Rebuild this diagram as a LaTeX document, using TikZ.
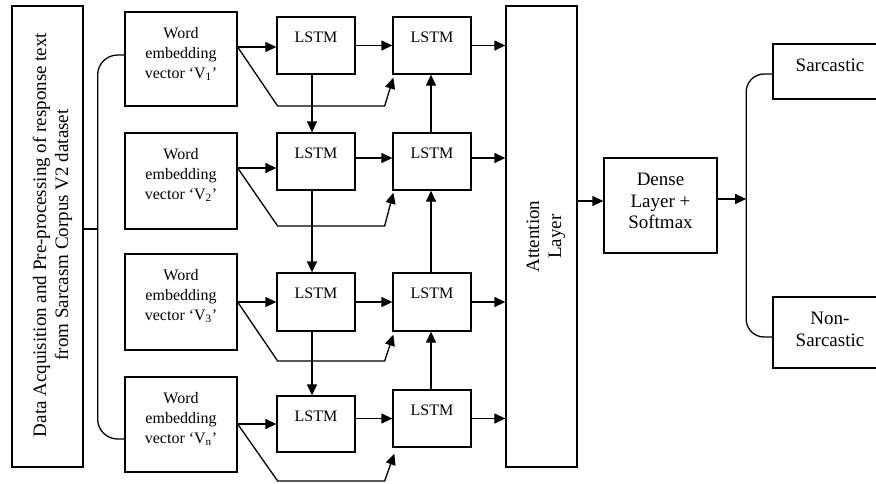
\documentclass[tikz,border=0pt]{standalone}
\usepackage{fontspec}
\setmainfont{Liberation Serif}
\usetikzlibrary{arrows.meta,calc}
\begin{document}
\begin{tikzpicture}[x=1pt,y=-1pt,
  box/.style={draw, line width=1.3pt, inner sep=0pt},
  lstm/.style={box, minimum width=78pt, minimum height=57pt},
  wbox/.style={box, minimum width=112pt, minimum height=95pt},
  sm/.style={font=\fontsize{16}{20}\selectfont, align=center, inner sep=0pt},
  lg/.style={font=\fontsize{19}{22}\selectfont, align=center, inner sep=0pt},
  arr/.style={-{Triangle[length=11pt,width=10pt]}, line width=1.3pt},
  ln/.style={line width=1.3pt}]
\useasboundingbox (0,0) rectangle (876,483);

% left data box
\node[box, minimum width=71pt, minimum height=461pt] (data) at (47.5,236.5) {};
\node[lg, rotate=90] (datat) at (52.5,235) {Data Acquisition and Pre-processing of response text\\from Sarcasm Corpus V2 dataset};

% word embedding boxes
\node[wbox, minimum height=94pt] (v1) at (181,59) {};
\node[sm] (v1t) at (181,54) {Word\\embedding\\vector ‘V\textsubscript{1}’};
\node[wbox, minimum height=96pt] (v2) at (181,181) {};
\node[sm] (v2t) at (181,175) {Word\\embedding\\vector ‘V\textsubscript{2}’};
\node[wbox, minimum height=96pt] (v3) at (181,302) {};
\node[sm] (v3t) at (181,296) {Word\\embedding\\vector ‘V\textsubscript{3}’};
\node[wbox, minimum height=95pt] (vn) at (181,424.5) {};
\node[sm] (vnt) at (181,419) {Word\\embedding\\vector ‘V\textsubscript{n}’};

% LSTM column 1
\node[lstm] (l11) at (316,45.5) {};
\node[lstm] (l21) at (316,161.5) {};
\node[lstm, minimum height=58pt] (l31) at (316,302) {};
\node[lstm, minimum height=56pt] (l41) at (316,424) {};
% LSTM column 2
\node[lstm] (l12) at (432,45.5) {};
\node[lstm] (l22) at (432,161.5) {};
\node[lstm, minimum height=58pt] (l32) at (432,302) {};
\node[lstm] (l42) at (432,418.5) {};

\node[sm] (l11t) at ($(l11.north)+(0,20.5)$) {LSTM};
\node[sm] (l21t) at ($(l21.north)+(0,20.5)$) {LSTM};
\node[sm] (l31t) at ($(l31.north)+(0,20.5)$) {LSTM};
\node[sm] (l41t) at ($(l41.north)+(0,20.5)$) {LSTM};
\node[sm] (l12t) at ($(l12.north)+(0,20.5)$) {LSTM};
\node[sm] (l22t) at ($(l22.north)+(0,20.5)$) {LSTM};
\node[sm] (l32t) at ($(l32.north)+(0,20.5)$) {LSTM};
\node[sm] (l42t) at ($(l42.north)+(0,20.5)$) {LSTM};

% attention
\node[box, minimum width=71pt, minimum height=461pt] (att) at (541.5,236.5) {};
\node[lg, rotate=90] (attt) at (546,236.5) {Attention\\Layer};

% dense
\node[box, minimum width=113pt, minimum height=95pt] (dense) at (660.5,205.5) {};
\node[lg, font=\fontsize{19}{21.5}\selectfont] (denset) at (660.5,201) {Dense\\Layer +\\Softmax};

% outputs
\node[box, minimum width=114pt, minimum height=55pt] (sar) at (830,71.5) {};
\node[lg] (sart) at (830,65.5) {Sarcastic};
\node[box, minimum width=114pt, minimum height=71pt] (non) at (830,332.5) {};
\node[lg] (nont) at (830,329) {Non-\\Sarcastic};

% left brace
\coordinate (lb) at ($(data.east)+(14,-7.5)$);
\draw[ln, rounded corners=20pt] ($(v1.west)+(0,-4)$) -| (lb) |- ($(vn.west)+(0,14.5)$);
\draw[ln] (lb -| data.east) -- (lb);

% word -> LSTM and skip paths
\coordinate (w1) at ($(l11.west -| v1.east)+(0,1.5)$);
\coordinate (w2) at ($(l21.west -| v2.east)+(0,6.5)$);
\coordinate (w3) at (l31.west -| v3.east);
\coordinate (w4) at (l41.west -| vn.east);
\draw[arr] (w1) -- (w1 -| l11.west);
\draw[arr] (w2) -- (w2 -| l21.west);
\draw[arr] (w3) -- (w3 -| l31.west);
\draw[arr] (w4) -- (w4 -| l41.west);
\draw[arr] (w1) -- ++(40,59) -- ++(107,0) -- ([shift={(1,3)}]l12.south west);
\draw[arr] (w2) -- ++(40,58) -- ++(107,0) -- ([shift={(1,2)}]l22.south west);
\draw[arr] (w3) -- ++(40,59) -- ++(107,0) -- ([shift={(1,3)}]l32.south west);
\draw[arr] (w4) -- ++(40,57) -- ++(107,0) -- ([shift={(2,6)}]l42.south west);

% LSTM1 -> LSTM2
\coordinate (m2) at ($(l22.west)+(0,-3.5)$);
\draw[arr] (l12.west -| l11.east) -- (l12.west);
\draw[arr] (m2 -| l21.east) -- (m2);
\draw[arr] (l32.west -| l31.east) -- (l32.west);
\draw[arr] (l42.west -| l41.east) -- (l42.west);

% vertical column 1 (down)
\draw[arr] ([xshift=-4pt]l11.south) -- ([xshift=-4pt]l21.north);
\draw[arr] ([xshift=-4pt]l21.south) -- ([xshift=-4pt]l31.north);
\draw[arr] ([xshift=-4pt]l31.south) -- ([xshift=-4pt]l41.north);
% vertical column 2 (up)
\draw[arr] ([xshift=-1pt]l22.north) -- ([xshift=-1pt]l12.south);
\draw[arr] ([xshift=-1pt]l32.north) -- ([xshift=-1pt]l22.south);
\draw[arr] ([xshift=-1pt]l42.north) -- ([xshift=-1pt]l32.south);

% LSTM2 -> attention
\draw[arr] (l12.east) -- (l12.east -| att.west);
\draw[arr] (m2 -| l22.east) -- (m2 -| att.west);
\draw[arr] (l32.east) -- (l32.east -| att.west);
\draw[arr] (l42.east) -- (l42.east -| att.west);

% attention -> dense
\coordinate (d1) at ($(dense.west)+(0,-4.5)$);
\draw[arr] (d1 -| att.east) -- (d1);

% dense -> outputs
\coordinate (brc) at ($(dense.east)+(28.5,-6.5)$);
\draw[arr] (brc -| dense.east) -- (brc);
\draw[ln, rounded corners=18pt] ($(sar.west)+(0,2.5)$) -| (brc) |- ($(non.west)+(0,4.5)$);
\end{tikzpicture}
\end{document}
